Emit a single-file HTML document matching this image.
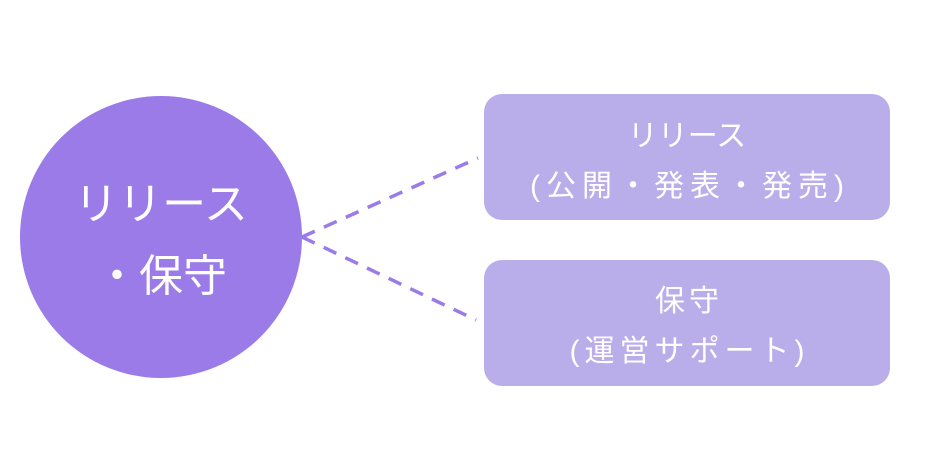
<!DOCTYPE html>
<html><head><meta charset="utf-8"><style>
body{margin:0;width:926px;height:472px;background:#fff;overflow:hidden;position:relative;font-family:"Liberation Sans","Noto Sans CJK JP",sans-serif;}
.c{position:absolute;left:20px;top:96px;width:282px;height:282px;border-radius:50%;background:#9b7be8;color:#fff;font-size:44px;line-height:72px;display:flex;align-items:center;justify-content:center;text-align:center;padding-top:8px;box-sizing:border-box;}
.b{position:absolute;left:484px;width:406px;height:126px;border-radius:18px;background:#b9aeea;color:#fff;font-size:30px;}
.l{position:absolute;left:0;width:406px;text-align:center;white-space:nowrap;line-height:40px;}
</style></head><body>
<svg width="926" height="472" style="position:absolute;left:0;top:0">
<g stroke="#9b7be8" stroke-width="3.5" stroke-dasharray="14,10" fill="none">
<line x1="302" y1="237" x2="478" y2="158"/>
<line x1="302" y1="237" x2="476" y2="320"/>
</g></svg>
<div class="c">リリース<br>・保守</div>
<div class="b" style="top:94px">
<div class="l" style="top:23px">リリース</div>
<div class="l" style="top:73px;letter-spacing:6px;text-indent:6px">(公開・発表・発売)</div>
</div>
<div class="b" style="top:260px">
<div class="l" style="top:22px;letter-spacing:4px;text-indent:4px">保守</div>
<div class="l" style="top:72px;letter-spacing:5px;text-indent:5px">(運営サポート)</div>
</div>
</body></html>
